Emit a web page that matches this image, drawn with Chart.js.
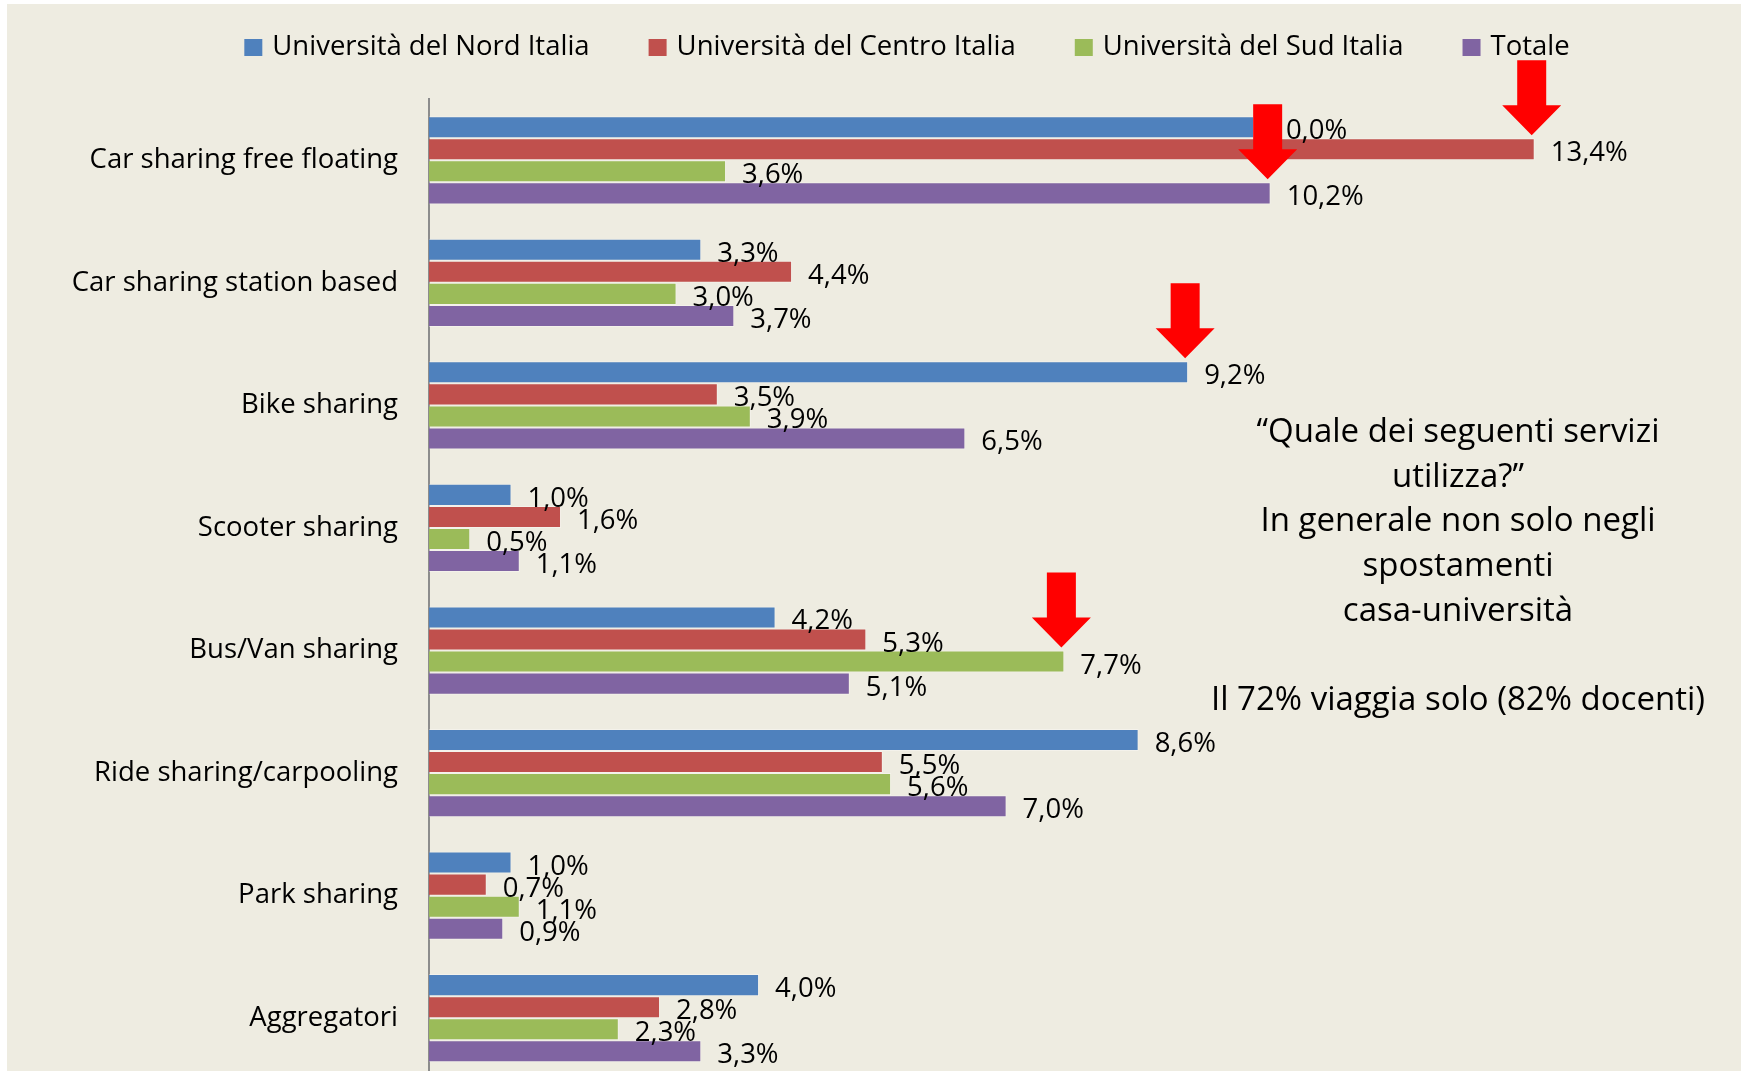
<!DOCTYPE html>
<html>
<head>
<meta charset="utf-8">
<script src="https://cdn.jsdelivr.net/npm/chart.js@4.4.0/dist/chart.umd.min.js"></script>
<style>
  html, body { margin: 0; padding: 0; overflow: hidden; background: #ffffff; }
  canvas { display: block; }
</style>
</head>
<body>
<canvas id="myChart" width="1741" height="1096"></canvas>
<script>
// categories and series (percent values)
const categories = [
  "Car sharing free floating",
  "Car sharing station based",
  "Bike sharing",
  "Scooter sharing",
  "Bus/Van sharing",
  "Ride sharing/carpooling",
  "Park sharing",
  "Aggregatori"
];
const seriesNames = [
  "Università del Nord Italia",
  "Università del Centro Italia",
  "Università del Sud Italia",
  "Totale"
];
const nord   = [10.0, 3.3, 9.2, 1.0, 4.2, 8.6, 1.0, 4.0];
const centro = [13.4, 4.4, 3.5, 1.6, 5.3, 5.5, 0.7, 2.8];
const sud    = [3.6, 3.0, 3.9, 0.5, 7.7, 5.6, 1.1, 2.3];
const totale = [10.2, 3.7, 6.5, 1.1, 5.1, 7.0, 0.9, 3.3];
const colors = ["#4F81BD", "#C0504D", "#9BBB59", "#8064A2"];

// red arrows: [series index, category index]
const arrows = [[1, 0], [3, 0], [0, 2], [2, 4]];

const noteLines = [
  "\u201cQuale dei seguenti servizi",
  "utilizza?\u201d",
  "In generale non solo negli",
  "spostamenti",
  "casa-università",
  "",
  "Il 72% viaggia solo (82% docenti)"
];

const FONT = "'Open Sans', sans-serif";

function fmt(v) {
  return v.toFixed(1).replace(".", ",") + "%";
}

const bgPlugin = {
  id: "bg",
  beforeDraw(chart) {
    const ctx = chart.ctx;
    ctx.save();
    ctx.fillStyle = "#EEECE1";
    ctx.fillRect(0, 0, chart.width, chart.height);
    ctx.fillStyle = "#ffffff";
    ctx.fillRect(0, 0, 7, chart.height);
    ctx.fillRect(0, 0, chart.width, 4);
    ctx.restore();
  }
};

const labelPlugin = {
  id: "labels",
  afterDatasetsDraw(chart) {
    const ctx = chart.ctx;
    ctx.save();
    ctx.font = "27.5px " + FONT;
    ctx.fillStyle = "#000";
    ctx.textAlign = "left";
    ctx.textBaseline = "alphabetic";
    chart.data.datasets.forEach((ds, i) => {
      const meta = chart.getDatasetMeta(i);
      meta.data.forEach((bar, j) => {
        ctx.fillText(fmt(ds.data[j]), bar.x + 16, bar.y + 12);
      });
    });
    ctx.restore();
  }
};

const extrasPlugin = {
  id: "extras",
  afterDraw(chart) {
    const ctx = chart.ctx;
    ctx.save();

    // legend
    ctx.font = "27.5px " + FONT;
    ctx.textBaseline = "middle";
    ctx.textAlign = "left";
    const box = 18, gapText = 10, gapItem = 59;
    let total = 0;
    const widths = seriesNames.map((n) => ctx.measureText(n).width);
    widths.forEach((w, i) => {
      total += box + gapText + w + (i < widths.length - 1 ? gapItem : 0);
    });
    let x = 907 - total / 2;
    seriesNames.forEach((n, i) => {
      ctx.fillStyle = colors[i];
      ctx.fillRect(x, 39, box, 17);
      ctx.fillStyle = "#000";
      ctx.fillText(n, x + box + gapText, 47);
      x += box + gapText + widths[i] + gapItem;
    });

    // arrows
    ctx.fillStyle = "#FF0000";
    arrows.forEach(([s, c]) => {
      const bar = chart.getDatasetMeta(s).data[c];
      const tx = bar.x - 3;
      const ty = bar.y - bar.height / 2 - 3;
      const shaft = 29, head = 59, headH = 30, len = 75;
      ctx.beginPath();
      ctx.moveTo(tx, ty);
      ctx.lineTo(tx - head / 2, ty - headH);
      ctx.lineTo(tx - shaft / 2, ty - headH);
      ctx.lineTo(tx - shaft / 2, ty - len);
      ctx.lineTo(tx + shaft / 2, ty - len);
      ctx.lineTo(tx + shaft / 2, ty - headH);
      ctx.lineTo(tx + head / 2, ty - headH);
      ctx.closePath();
      ctx.fill();
    });

    // note text
    ctx.font = "33px " + FONT;
    ctx.fillStyle = "#000";
    ctx.textAlign = "center";
    ctx.textBaseline = "alphabetic";
    noteLines.forEach((line, i) => {
      ctx.fillText(line, 1458, 442 + i * 44.7);
    });

    ctx.restore();
  }
};

const data = {
  labels: categories,
  datasets: [nord, centro, sud, totale].map((vals, i) => ({
    label: seriesNames[i],
    data: vals,
    backgroundColor: colors[i],
    borderColor: "rgba(255,255,255,0.35)",
    borderWidth: 1,
    categoryPercentage: 0.72,
    barPercentage: 1.0
  }))
};

new Chart(document.getElementById("myChart"), {
  type: "bar",
  data: data,
  options: {
    indexAxis: "y",
    responsive: false,
    animation: false,
    layout: { padding: { top: 99, bottom: 0, left: 0, right: 0 } },
    plugins: {
      legend: { display: false },
      tooltip: { enabled: false }
    },
    scales: {
      x: {
        display: false,
        min: 0,
        max: 15.9
      },
      y: {
        afterFit(scale) {
          scale.width = 429;
        },
        grid: {
          drawOnChartArea: false,
          drawTicks: true,
          tickLength: 31,
          color: "rgba(0,0,0,0)",
          tickColor: "rgba(0,0,0,0)"
        },
        border: { display: true, color: "#8C8C8C", width: 2 },
        ticks: {
          color: "#000",
          padding: 0,
          font: { family: FONT, size: 27.5 }
        }
      }
    }
  },
  plugins: [bgPlugin, labelPlugin, extrasPlugin]
});
</script>
</body>
</html>
